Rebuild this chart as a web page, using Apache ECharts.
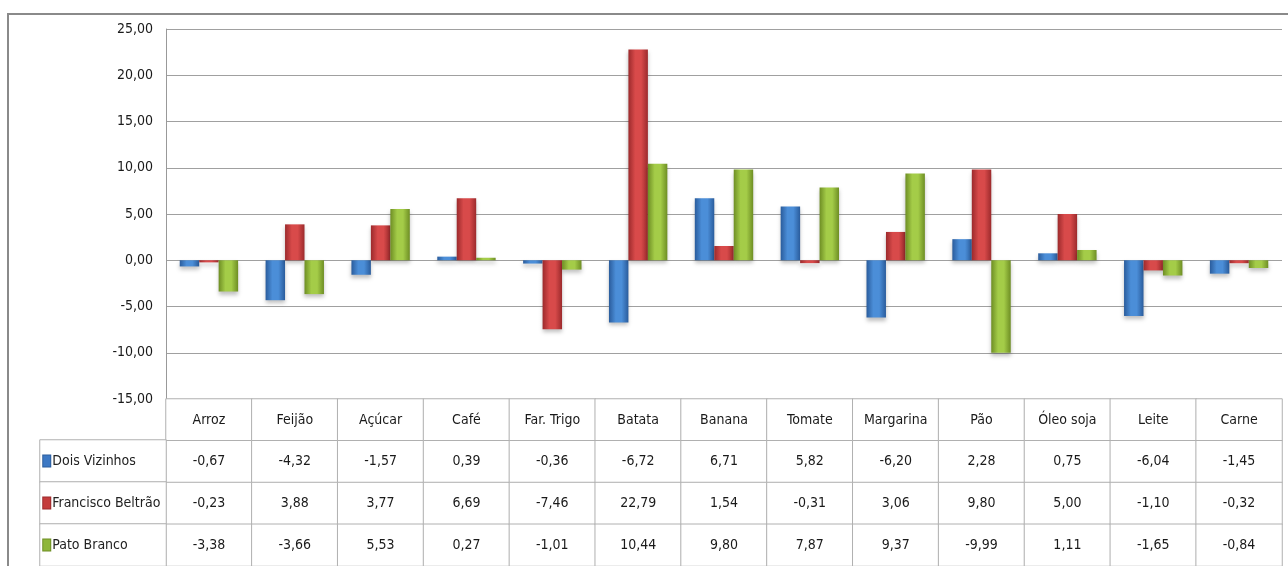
<!DOCTYPE html>
<html>
<head>
<meta charset="utf-8">
<script src="https://cdn.jsdelivr.net/npm/echarts@6/dist/echarts.min.js"></script>
<style>
  html, body { margin: 0; padding: 0; background: #fff; }
  #main { width: 1288px; height: 566px; }
</style>
</head>
<body>
<div id="main"></div>
<script>
// data
const categories = ['Arroz', 'Feijão', 'Açúcar', 'Café', 'Far. Trigo', 'Batata', 'Banana',
  'Tomate', 'Margarina', 'Pão', 'Óleo soja', 'Leite', 'Carne'];
const seriesNames = ['Dois Vizinhos', 'Francisco Beltrão', 'Pato Branco'];
const doisVizinhos = [-0.67, -4.32, -1.57, 0.39, -0.36, -6.72, 6.71, 5.82, -6.20, 2.28, 0.75, -6.04, -1.45];
const franciscoBeltrao = [-0.23, 3.88, 3.77, 6.69, -7.46, 22.79, 1.54, -0.31, 3.06, 9.80, 5.00, -1.10, -0.32];
const patoBranco = [-3.38, -3.66, 5.53, 0.27, -1.01, 10.44, 9.80, 7.87, 9.37, -9.99, 1.11, -1.65, -0.84];
const yTicks = { min: -15, max: 25, interval: 5 };

const values = [doisVizinhos, franciscoBeltrao, patoBranco];
const FONT = "'Liberation Sans Narrow', 'DejaVu Sans Condensed', sans-serif";
const fmt = v => v.toFixed(2).replace('.', ',');

// edge / centre colours for the bevel-like gradient
const palette = [
  { edge: '#2a5c9c', mid: '#4b8ed8', key: '#3c78c4' },
  { edge: '#9c2a2c', mid: '#d84a4a', key: '#c43c3c' },
  { edge: '#6e8e24', mid: '#a4cc48', key: '#8eb63a' }
];

const grad = c => new echarts.graphic.LinearGradient(0, 0, 1, 0, [
  { offset: 0, color: c.edge },
  { offset: 0.35, color: c.mid },
  { offset: 0.65, color: c.mid },
  { offset: 1, color: c.edge }
]);

const barSeries = seriesNames.map((name, i) => ({
  name: name,
  type: 'bar',
  xAxisIndex: 0,
  yAxisIndex: 0,
  data: values[i],
  barGap: '0%',
  barCategoryGap: '32%',
  itemStyle: {
    color: grad(palette[i]),
    shadowColor: 'rgba(0,0,0,0.25)',
    shadowBlur: 4,
    shadowOffsetY: 3
  }
}));

// data table cells: row 0 = category names, rows 1..3 = values
const tableCells = [];
categories.forEach((c, x) => {
  tableCells.push([x, 0, 0, c]);
  values.forEach((arr, r) => tableCells.push([x, r + 1, 0, fmt(arr[x])]));
});
const legendCells = seriesNames.map((n, r) => [0, r, 0, `{k${r}|}{n|${n}}`]);

const rich = { n: { fontFamily: FONT, fontSize: 14, color: '#222', padding: [0, 0, 0, 2] } };
palette.forEach((c, i) => {
  rich['k' + i] = { width: 7, height: 11, backgroundColor: c.key, borderColor: c.edge, borderWidth: 1 };
});

const chart = echarts.init(document.getElementById('main'));
chart.setOption({
  animation: false,
  backgroundColor: '#fff',
  grid: [
    { left: 166, right: 6, top: 29, bottom: 167 },
    { left: 166, right: 6, top: 399, bottom: -2 },
    { left: 40, width: 126, top: 440, bottom: -2 }
  ],
  xAxis: [
    {
      type: 'category', gridIndex: 0, data: categories,
      axisLine: { show: false }, axisTick: { show: false }, axisLabel: { show: false }
    },
    { type: 'category', gridIndex: 1, data: categories, show: false },
    { type: 'category', gridIndex: 2, data: ['k'], show: false }
  ],
  yAxis: [
    {
      type: 'value', gridIndex: 0, min: yTicks.min, max: yTicks.max, interval: yTicks.interval,
      axisLine: { show: true, lineStyle: { color: '#999' } },
      axisTick: { show: false },
      axisLabel: { formatter: fmt, fontFamily: FONT, fontSize: 14, color: '#1a1a1a', margin: 13 },
      splitLine: { lineStyle: { color: '#a0a0a0', width: 1 } }
    },
    { type: 'category', gridIndex: 1, inverse: true, data: ['c', 'r1', 'r2', 'r3'], show: false },
    { type: 'category', gridIndex: 2, inverse: true, data: ['r1', 'r2', 'r3'], show: false }
  ],
  series: barSeries.concat([
    {
      type: 'heatmap', xAxisIndex: 1, yAxisIndex: 1, data: tableCells,
      itemStyle: { color: '#fff', borderColor: '#b0b0b0', borderWidth: 1 },
      label: { show: true, formatter: p => p.data[3], fontFamily: FONT, fontSize: 14, color: '#1a1a1a' },
      emphasis: { disabled: true }
    },
    {
      type: 'heatmap', xAxisIndex: 2, yAxisIndex: 2, data: legendCells,
      itemStyle: { color: '#fff', borderColor: '#b0b0b0', borderWidth: 1 },
      label: { show: true, position: 'insideLeft', distance: 4, formatter: p => p.data[3], rich: rich },
      emphasis: { disabled: true }
    }
  ]),
  graphic: [
    {
      type: 'rect', silent: true, z: 100,
      shape: { x: 8, y: 14, width: 1300, height: 600 },
      style: { fill: 'none', stroke: '#8a8a8a', lineWidth: 2 }
    }
  ]
});
</script>
</body>
</html>
